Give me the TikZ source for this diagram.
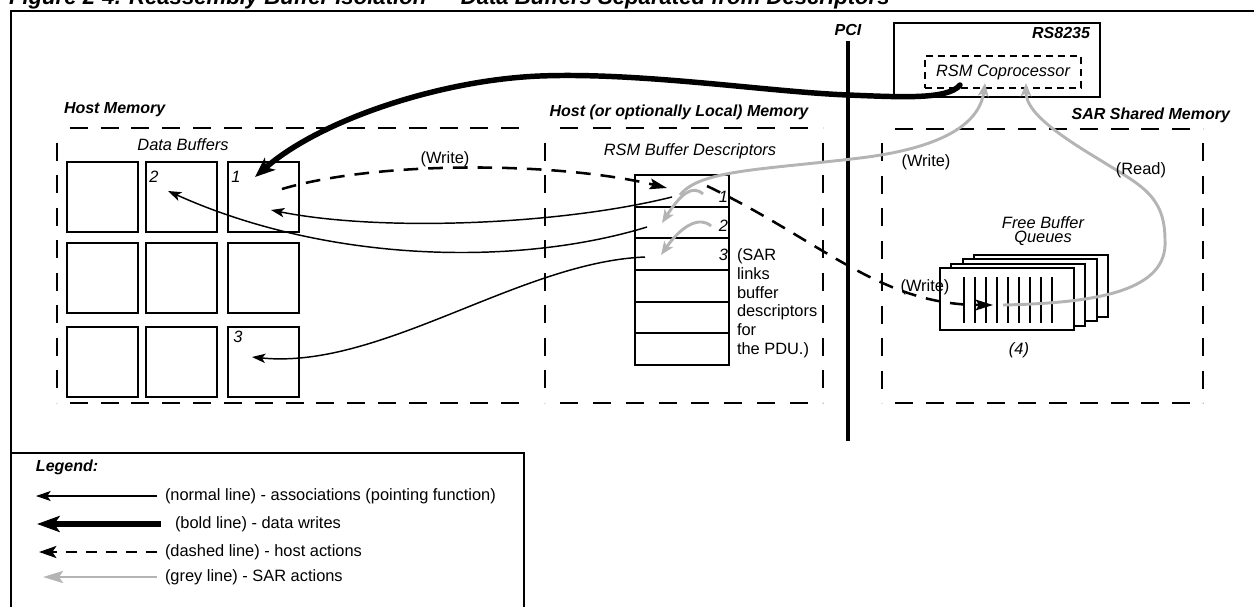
\documentclass[tikz,border=0pt]{standalone}
\usepackage{fontspec}
\setmainfont{Liberation Sans}
\usetikzlibrary{arrows.meta,calc,decorations}
\definecolor{sargrey}{RGB}{180,180,180}
\begin{document}
\begin{tikzpicture}[x=0.75pt,y=-0.75pt,
 every node/.style={inner sep=0pt,outer sep=0pt,font=\fontsize{12.3}{14}\selectfont},
 lbl/.style={font=\fontsize{12}{14}\selectfont\bfseries\itshape},
 itl/.style={font=\fontsize{12.3}{14}\selectfont\itshape},
 frame/.style={line width=1.9pt},
 dbox/.style={line width=1.6pt,dash pattern=on 13.5pt off 9pt,dash expand off},
 buf/.style={draw,line width=1.5pt,minimum width=53.25pt,minimum height=52.5pt},
 drow/.style={draw,line width=1.5pt,minimum width=70.5pt,minimum height=23.75pt},
 qbox/.style={draw,fill=white,line width=1.5pt,minimum width=100.5pt,minimum height=46.5pt},
 assoc/.style={line width=1.1pt,-{Stealth[length=10pt,width=7pt,inset=2.5pt]}},
 boldw/.style={line width=4.1pt,-{Stealth[length=15pt,width=12pt,inset=4pt]}},
 hostact/.style={line width=1.9pt,dash pattern=on 11pt off 7.5pt,-{Stealth[length=13pt,width=8pt,inset=2.5pt]}},
 saract/.style={sargrey,line width=2.2pt,-{Stealth[length=10pt,width=8pt,inset=2.5pt]}},
]
\useasboundingbox (0,0) rectangle (1254,607);
\clip (0,0) rectangle (1254,607);

% title (cut off at the top in the reference)
\node[anchor=base west,font=\fontsize{16.6}{20}\selectfont\bfseries\itshape] (title) at (9,4)
  {Figure 2-4. Reassembly Buffer Isolation — Data Buffers Separated from Descriptors};

% outer frame
\draw[frame] (11,615) -- (11,11) -- (1260,11);

% PCI
\draw[line width=2.3pt] (848,41) -- (848,441);
\node[lbl] (pci) at (848,30) {PCI};

% RS8235
\node[draw,line width=1.5pt,minimum width=154.5pt,minimum height=55.5pt] (rs) at (997,60) {};
\node[lbl,anchor=east] (rslbl) at (1090,33) {RS8235};
\node[draw,dash pattern=on 5.25pt off 3.75pt,line width=1.4pt,minimum width=117pt,minimum height=24pt,itl] (cop) at (1003,72) {RSM Coprocessor};

% dashed memory regions
\draw[dbox] (57,128) -- (57,403);
\draw[dbox] (57,128) -- (532,128);
\draw[dbox] (57,403) -- (532,403);
\draw[dbox] (545,128) -- (823,128);
\draw[dbox] (545,403) -- (823,403);
\draw[dbox] (545,128) -- (545,403);
\draw[dbox] (823,128) -- (823,403);
\draw[dbox] (882,129) -- (1203,129);
\draw[dbox] (882,403) -- (1203,403);
\draw[dbox] (882,129) -- (882,403);
\draw[dbox] (1203,129) -- (1203,403);

\node[lbl,anchor=west] (hmlbl) at (64,110) {Host Memory};
\node[lbl] (holbl) at (679,112) {Host (or optionally Local) Memory};
\node[lbl,anchor=east] (sarlbl) at (1230,115) {SAR Shared Memory};
\node[itl] (dblbl) at (183,145) {Data Buffers};
\node[itl] (rsmbd) at (690,151) {RSM Buffer Descriptors};

% data buffers
\foreach \r/\yy in {1/197,2/278,3/361.5}
  \foreach \c/\xx in {1/102,2/181.5,3/263}
    \node[buf] (b\r\c) at (\xx,\yy) {};
\node[itl] (n2) at (154,177) {2};
\node[itl] (n1) at (236,177) {1};
\node[itl] (n3) at (238,337) {3};

% descriptors
\foreach \i in {1,...,6}
  \node[drow] (d\i) at (682,{175+31.67*(\i-0.5)}) {};
\node[itl,anchor=east] (dn1) at (728,197) {1};
\node[itl,anchor=east] (dn2) at (728,226) {2};
\node[itl,anchor=east] (dn3) at (728,255) {3};
\node[anchor=north west,align=left] (sarnote) at (737,249)
  {(SAR\\links\\buffer\\descriptors\\for\\the PDU.)};

% free buffer queues
\foreach \k in {3,2,1,0}
  \node[qbox] (q\k) at ({1007+11.3*\k},{299-4.5*\k}) {};
\foreach \i in {0,...,8}
  \draw[line width=0.9pt] ({964+11*\i},277) -- ({964+11*\i},323);
\node[align=center,font=\fontsize{12.3}{10.5}\selectfont\itshape] (fbq) at (1043,231) {Free Buffer\\Queues};
\node[itl] (four) at (1019,350) {(4)};

% associations
\coordinate (s1) at (672,197); \coordinate (t1) at (271,210);
\coordinate (s2) at (647,227); \coordinate (t2) at (168,191);
\coordinate (s3) at (645,257); \coordinate (t3) at (252,357);
\draw[assoc] (s1) .. controls (560,225) and (380,232) .. (t1);
\draw[assoc] (s2) .. controls (520,266) and (330,264) .. (t2);
\draw[assoc] (s3) .. controls (520,262) and (380,370) .. (t3);

% bold data write
\coordinate (bw0) at (960,85); \coordinate (bw1) at (255,177);
\draw[boldw,line cap=round] (bw0) .. controls (948,100) and (900,97) .. (848,95)
  .. controls (770,92) and (640,72) .. (540,76)
  .. controls (440,80) and (320,120) .. (bw1);

% host actions
\coordinate (h0) at (282,189); \coordinate (h1) at (667,188);
\draw[hostact] (h0) .. controls (380,160) and (560,162) .. (h1);
\coordinate (h2) at (707,186); \coordinate (h3) at (993,305);
\draw[hostact] (h2) .. controls (820,240) and (880,305) .. (h3);

% SAR actions
\coordinate (g0) at (680,195); \coordinate (g1) at (985,83);
\draw[saract] (g0) .. controls (700,170) and (760,170) .. (860,158)
  .. controls (950,147) and (980,120) .. (g1);
\coordinate (g2) at (1003,305); \coordinate (g3) at (1026,83);
\draw[saract] (g2) .. controls (1100,303) and (1168,290) .. (1165,240)
  .. controls (1165,195) and (1140,185) .. (1100,160)
  .. controls (1050,130) and (1026,110) .. (g3);
\coordinate (g4) at (703,194); \coordinate (g5) at (662,223);
\draw[saract] (g4) .. controls (692,184) and (680,195) .. (g5);
\coordinate (g6) at (711,226); \coordinate (g7) at (661,255);
\draw[saract] (g6) .. controls (700,216) and (682,225) .. (g7);

\node (w1) at (445,159) {(Write)};
\node (w2) at (926,162) {(Write)};
\node (rd) at (1141,170) {(Read)};
\node (w3) at (925,287) {(Write)};

% legend
\draw[frame] (11,453) -- (524,453) -- (524,615);
\node[lbl,anchor=west] (leg) at (36,467) {Legend:};
\coordinate (la0) at (157,496); \coordinate (la1) at (36,496);
\coordinate (lb0) at (161,524); \coordinate (lb1) at (37,524);
\coordinate (lc0) at (157,552); \coordinate (lc1) at (39,552);
\coordinate (ld0) at (157,577); \coordinate (ld1) at (43,577);
\draw[assoc,-{Stealth[length=11pt,width=7.5pt,inset=2.5pt]}] (la0) -- (la1);
\draw[boldw,-{Stealth[length=17pt,width=12pt,inset=4pt]}] (lb0) -- (lb1);
\draw[hostact,dash pattern=on 8.5pt off 6.5pt,-{Stealth[length=13pt,width=9pt,inset=3pt]}] (lc0) -- (lc1);
\draw[saract,-{Stealth[length=15pt,width=9pt,inset=3pt]}] (ld0) -- (ld1);
\node[anchor=west] (la) at (165,496) {(normal line) - associations (pointing function)};
\node[anchor=west] (lb) at (175,524) {(bold line) - data writes};
\node[anchor=west] (lc) at (165,552) {(dashed line) - host actions};
\node[anchor=west] (ld) at (165,577) {(grey line) - SAR actions};
\end{tikzpicture}
\end{document}
